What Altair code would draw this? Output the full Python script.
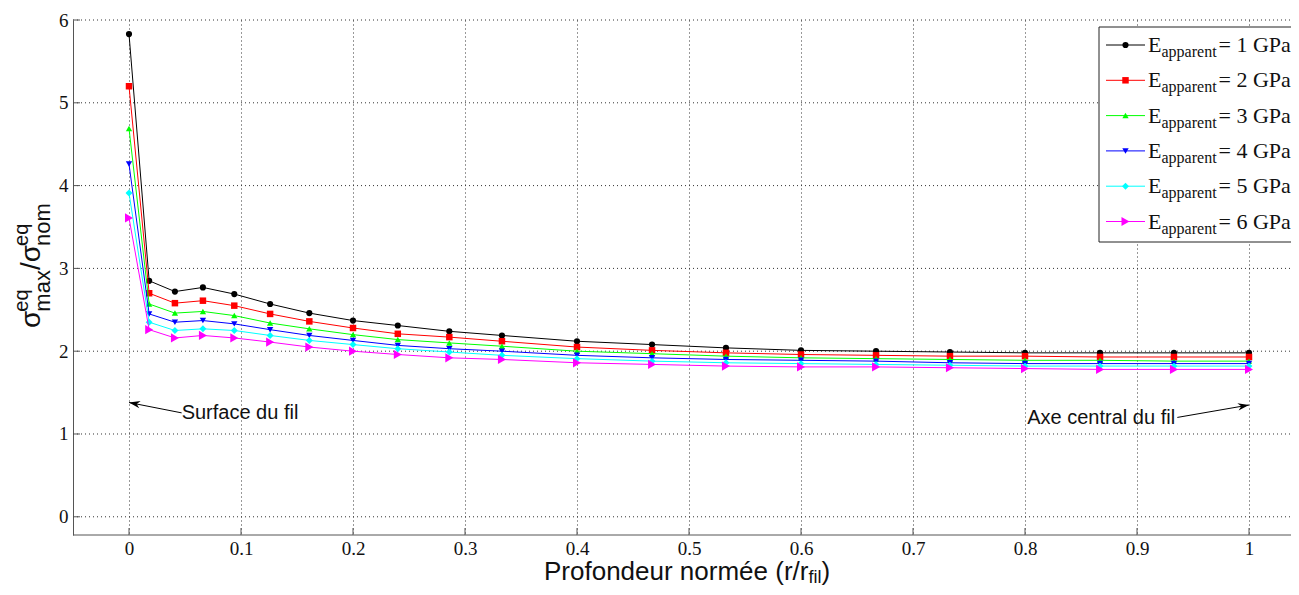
import math
import altair as alt
import pandas as pd

# ---------------- data ----------------
x_vals = [0, 0.018, 0.041, 0.066, 0.094, 0.126, 0.161, 0.2, 0.24, 0.286, 0.333,
          0.4, 0.467, 0.533, 0.6, 0.667, 0.733, 0.8, 0.867, 0.933, 1.0]
e1 = [5.83, 2.85, 2.72, 2.77, 2.69, 2.57, 2.46, 2.37, 2.31, 2.24, 2.19,
      2.12, 2.08, 2.04, 2.01, 2.00, 1.99, 1.98, 1.98, 1.98, 1.98]
e2 = [5.20, 2.70, 2.58, 2.61, 2.55, 2.45, 2.36, 2.28, 2.21, 2.17, 2.12,
      2.05, 2.01, 1.98, 1.96, 1.95, 1.94, 1.94, 1.93, 1.93, 1.93]
e3 = [4.69, 2.57, 2.46, 2.48, 2.43, 2.34, 2.27, 2.20, 2.14, 2.10, 2.06,
      2.00, 1.97, 1.94, 1.92, 1.91, 1.90, 1.89, 1.89, 1.88, 1.88]
e4 = [4.26, 2.45, 2.35, 2.37, 2.33, 2.26, 2.19, 2.13, 2.07, 2.03, 2.00,
      1.95, 1.92, 1.90, 1.89, 1.88, 1.86, 1.85, 1.85, 1.85, 1.85]
e5 = [3.91, 2.35, 2.25, 2.27, 2.25, 2.19, 2.13, 2.08, 2.03, 1.99, 1.95,
      1.91, 1.88, 1.86, 1.85, 1.84, 1.83, 1.82, 1.82, 1.82, 1.82]
e6 = [3.61, 2.26, 2.16, 2.19, 2.16, 2.11, 2.05, 2.00, 1.96, 1.92, 1.90,
      1.86, 1.84, 1.82, 1.81, 1.81, 1.80, 1.79, 1.78, 1.78, 1.78]
series = [e1, e2, e3, e4, e5, e6]
series_labels = ["1", "2", "3", "4", "5", "6"]
colors = ["#000000", "#ff0000", "#00ff00", "#0000ff", "#00ffff", "#ff00ff"]
shapes = ["circle", "square", "triangle-up", "triangle-down", "diamond", "triangle-right"]
msizes = [38, 42, 40, 40, 48, 85]

x_ticks = [0, 0.1, 0.2, 0.3, 0.4, 0.5, 0.6, 0.7, 0.8, 0.9, 1]
y_ticks = [0, 1, 2, 3, 4, 5, 6]

ann_texts = ["Surface du fil", "Axe central du fil"]
ann_text_x = [0.047, 0.934]
ann_text_y = [1.255, 1.195]
ann_align = ["left", "right"]
arrow_tail = [(0.047, 1.255), (0.936, 1.20)]
arrow_tip = [(0.0, 1.38), (1.0, 1.35)]

# ---------------- layout ----------------
W, H = 1210, 515
XD = [-0.05, -0.05 + W / 1120.0]
YD = [-0.22, 6]
xs = alt.Scale(domain=XD, nice=False, zero=False)
ys = alt.Scale(domain=YD, nice=False, zero=False)
SANS = "Liberation Sans"
SERIF = "Liberation Serif"
PAD_L, PAD_R, PAD_T, PAD_B = 65, 8, 12, 52
EXT = W + PAD_R  # right edge of the drawing in plot coordinates

ax_x = alt.Axis(values=x_ticks, format="~g", title=None, grid=True, gridDash=[1, 3],
                gridColor="#333333", gridWidth=1, ticks=False, tickSize=0,
                labelFont=SERIF, labelFontSize=19, labelColor="#111111",
                labelPadding=4, domain=False, labelFlush=False)
ax_y = alt.Axis(values=y_ticks, format="d", title=None, grid=False,
                ticks=False, tickSize=0,
                labelFont=SERIF, labelFontSize=19, labelColor="#111111",
                labelPadding=5, domainColor="#555555", labelFlush=False)

def X(f):
    return alt.X(f, type="quantitative", scale=xs, axis=ax_x)

def Y(f):
    return alt.Y(f, type="quantitative", scale=ys, axis=ax_y)

layers = []

tx = pd.DataFrame({"v": x_ticks})
ty = pd.DataFrame({"v": y_ticks})
# horizontal dotted grid lines running to the right edge
layers.append(alt.Chart(ty).mark_rule(color="#333333", strokeWidth=1, strokeDash=[1, 3]).encode(
    y=Y("v"), x=alt.value(0), x2=alt.value(EXT)))
# bottom axis line
layers.append(alt.Chart(pd.DataFrame({"a": [0]})).mark_rule(color="#555555", strokeWidth=1).encode(
    y=alt.value(H), x=alt.value(0), x2=alt.value(EXT)))
# inside ticks
layers.append(alt.Chart(tx).mark_rule(color="#555555", strokeWidth=1).encode(
    x=X("v"), y=alt.value(H), y2=alt.value(H - 7)))
layers.append(alt.Chart(ty).mark_rule(color="#555555", strokeWidth=1).encode(
    y=Y("v"), x=alt.value(0), x2=alt.value(7)))

# series
for i, vals in enumerate(series):
    df = pd.DataFrame({"x": x_vals, "y": vals})
    layers.append(alt.Chart(df).mark_line(color=colors[i], strokeWidth=1).encode(
        x=X("x"), y=Y("y")))
    layers.append(alt.Chart(df).mark_point(shape=shapes[i], filled=True, opacity=1,
                                           color=colors[i], size=msizes[i]).encode(
        x=X("x"), y=Y("y")))

# annotations
kx = W / (XD[1] - XD[0])
ky = H / (YD[1] - YD[0])
for i in range(2):
    adf = pd.DataFrame({"x": [ann_text_x[i]], "y": [ann_text_y[i]], "t": [ann_texts[i]]})
    layers.append(alt.Chart(adf).mark_text(font=SANS, fontSize=20, align=ann_align[i],
                                           baseline="middle", color="#111111").encode(
        x=X("x"), y=Y("y"), text="t:N"))
    (x0, y0), (x1, y1) = arrow_tail[i], arrow_tip[i]
    rdf = pd.DataFrame({"x": [x0], "y": [y0], "x2": [x1], "y2": [y1]})
    layers.append(alt.Chart(rdf).mark_rule(color="black", strokeWidth=1).encode(
        x=X("x"), y=Y("y"), x2="x2", y2="y2"))
    ang = math.degrees(math.atan2(-(y1 - y0) * ky, (x1 - x0) * kx)) % 360
    hdf = pd.DataFrame({"x": [x1], "y": [y1]})
    layers.append(alt.Chart(hdf).mark_point(
        shape="M0,0L-1,-0.33L-0.7,0L-1,0.33Z", size=500, angle=ang, filled=True,
        opacity=1, color="black").encode(x=X("x"), y=Y("y")))

def ptext(txt, px, py, fs, font=SANS, angle=0, align="left", baseline="alphabetic"):
    d = pd.DataFrame({"t": [txt]})
    kw = dict(font=font, fontSize=fs, align=align, baseline=baseline, color="#111111")
    if angle:
        kw["angle"] = angle
    return alt.Chart(d).mark_text(**kw).encode(
        text="t:N", x=alt.value(px), y=alt.value(py))

# legend (box runs past the right edge, as in the reference)
LX = 1026
layers.append(alt.Chart(pd.DataFrame({"a": [0]})).mark_rect(
    fill="white", stroke="#222222", strokeWidth=1).encode(
    x=alt.value(LX), x2=alt.value(EXT + 20), y=alt.value(7), y2=alt.value(222)))
for i in range(6):
    cy = 25 + 35.3 * i
    layers.append(alt.Chart(pd.DataFrame({"a": [0]})).mark_rule(
        color=colors[i], strokeWidth=1).encode(
        x=alt.value(LX + 7), x2=alt.value(LX + 46), y=alt.value(cy)))
    layers.append(alt.Chart(pd.DataFrame({"a": [0]})).mark_point(
        shape=shapes[i], filled=True, opacity=1, color=colors[i], size=msizes[i]).encode(
        x=alt.value(LX + 26.5), y=alt.value(cy)))
    layers.append(ptext("E", LX + 49, cy + 7, 22, font=SERIF))
    layers.append(ptext("apparent", LX + 62.5, cy + 12, 16, font=SERIF))
    layers.append(ptext("= " + series_labels[i] + " GPa", LX + 119.5, cy + 7, 22, font=SERIF))

def wid(s, fs):
    w = {"P": .667, "r": .333, "o": .556, "f": .278, "n": .556, "d": .556, "e": .556,
         "u": .556, " ": .278, "m": .833, "é": .556, "(": .333, "/": .278, ")": .333,
         "i": .222, "l": .222, "a": .556, "x": .5, "q": .556, "σ": .584}
    return sum(w.get(c, .556) for c in s) * fs

# x-axis title with subscript
xt_main = "Profondeur normée (r/r"
xt_x0 = 471
XT_BASE = 560
layers.append(ptext(xt_main, xt_x0, XT_BASE, 26))
x1p = xt_x0 + wid(xt_main, 26)
layers.append(ptext("fil", x1p, XT_BASE + 3, 18))
layers.append(ptext(")", x1p + wid("fil", 18), XT_BASE, 26))

# y-axis title: sigma^eq_max / sigma^eq_nom (rotated)
B = -33
y0p = 308
layers.append(ptext("σ", B, y0p, 28, angle=270))
y1p = y0p - wid("σ", 28)
layers.append(ptext("eq", B - 12, y1p, 20, angle=270))
layers.append(ptext("max", B + 10, y1p, 22, angle=270))
y2p = y1p - wid("max", 22)
layers.append(ptext("/σ", B, y2p, 28, angle=270))
y3p = y2p - wid("/σ", 28)
layers.append(ptext("eq", B - 12, y3p, 20, angle=270))
layers.append(ptext("nom", B + 10, y3p, 22, angle=270))

chart = alt.layer(*layers).properties(
    width=W, height=H,
    autosize=alt.AutoSizeParams(type="none"),
    padding={"left": PAD_L, "top": PAD_T, "right": PAD_R, "bottom": PAD_B},
    background="white",
).configure_view(stroke=None)

chart.save("out.html", embed_options={"renderer": "svg", "actions": False})
